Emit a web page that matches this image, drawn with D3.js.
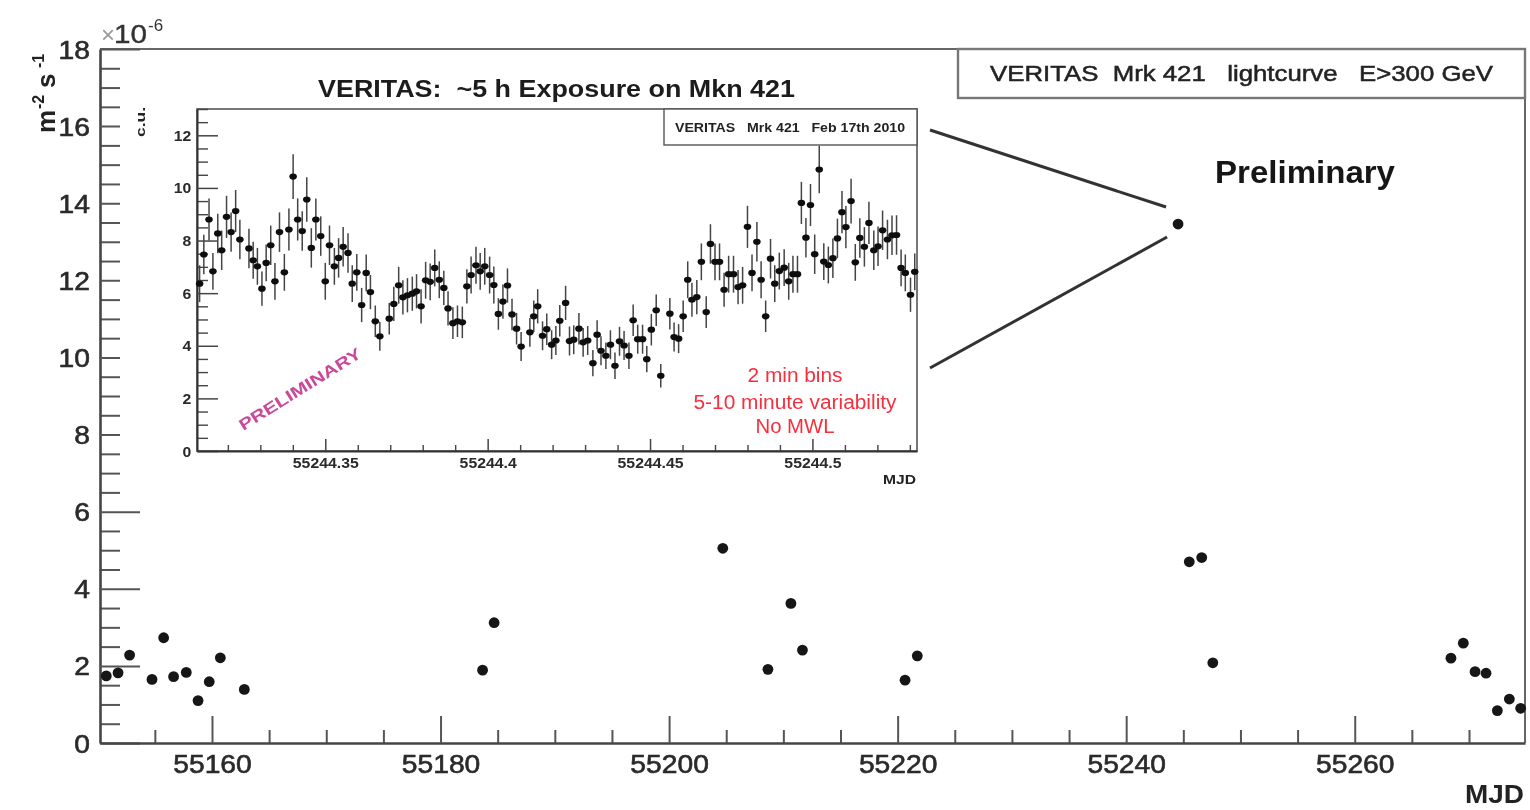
<!DOCTYPE html>
<html>
<head>
<meta charset="utf-8">
<script src="https://cdn.jsdelivr.net/npm/d3@7"></script>
<style>
  html, body { margin: 0; padding: 0; background: #fff; }
  svg { display: block; font-family: "Liberation Sans", Arial, Helvetica, sans-serif; }
  text { white-space: pre; }
</style>
</head>
<body>
<script>
// ---- Long-term light curve (flux in units of 1e-6 m^-2 s^-1) ----
const nightMJD = [55150.75, 55151.78, 55152.79, 55154.75, 55155.77, 55156.64, 55157.75, 55158.78,
  55159.76, 55160.73, 55162.83, 55183.68, 55184.69, 55204.70, 55208.65, 55210.66, 55211.67,
  55220.65, 55221.72, 55244.54, 55245.52, 55246.61, 55247.58, 55268.42, 55269.50, 55270.53,
  55271.49, 55272.48, 55273.53, 55274.52];
const nightFlux = [1.74, 1.82, 2.28, 1.65, 2.73, 1.72, 1.83, 1.10, 1.59, 2.21, 1.39, 1.89, 3.12,
  5.05, 1.91, 3.62, 2.41, 1.63, 2.26, 13.46, 4.70, 4.81, 2.08, 2.20, 2.59, 1.85, 1.81, 0.84,
  1.14, 0.90];
const flareMJD = 55244.54;   // night shown in the 2-minute-bin inset
const flareFlux = 13.46;

const mainXTicks = [55160, 55180, 55200, 55220, 55240, 55260];
const mainYTicks = [0, 2, 4, 6, 8, 10, 12, 14, 16, 18];

// ---- Feb 17th 2010 run, 2 min bins (Crab units) ----
const insetTime = [55244.3113, 55244.3126, 55244.3142, 55244.3154, 55244.3169, 55244.3181,
  55244.3196, 55244.3210, 55244.3224, 55244.3237, 55244.3265, 55244.3278, 55244.3291, 55244.3305,
  55244.3318, 55244.3332, 55244.3345, 55244.3359, 55244.3374, 55244.3388, 55244.3401, 55244.3415,
  55244.3429, 55244.3443, 55244.3457, 55244.3471, 55244.3486, 55244.3500, 55244.3513, 55244.3528,
  55244.3541, 55244.3555, 55244.3570, 55244.3583, 55244.3597, 55244.3612, 55244.3626, 55244.3639,
  55244.3654, 55244.3668, 55244.3697, 55244.3711, 55244.3726, 55244.3739, 55244.3753, 55244.3768,
  55244.3781, 55244.3795, 55244.3809, 55244.3823, 55244.3837, 55244.3851, 55244.3865, 55244.3878,
  55244.3893, 55244.3907, 55244.3922, 55244.3936, 55244.3949, 55244.3964, 55244.3977, 55244.3991,
  55244.4006, 55244.4019, 55244.4033, 55244.4047, 55244.4061, 55244.4075, 55244.4089, 55244.4103,
  55244.4130, 55244.4142, 55244.4154, 55244.4169, 55244.4182, 55244.4197, 55244.4210, 55244.4222,
  55244.4240, 55244.4252, 55244.4265, 55244.4281, 55244.4294, 55244.4308, 55244.4324, 55244.4337,
  55244.4349, 55244.4364, 55244.4378, 55244.4392, 55244.4406, 55244.4420, 55244.4435, 55244.4448,
  55244.4462, 55244.4477, 55244.4490, 55244.4504, 55244.4519, 55244.4533, 55244.4561, 55244.4574,
  55244.4588, 55244.4602, 55244.4616, 55244.4629, 55244.4644, 55244.4658, 55244.4673, 55244.4686,
  55244.4700, 55244.4714, 55244.4728, 55244.4742, 55244.4757, 55244.4771, 55244.4785, 55244.4800,
  55244.4814, 55244.4829, 55244.4842, 55244.4856, 55244.4871, 55244.4884, 55244.4898, 55244.4913,
  55244.4927, 55244.4940, 55244.4954, 55244.4966, 55244.4980, 55244.4994, 55244.5007, 55244.5021,
  55244.5035, 55244.5049, 55244.5063, 55244.5077, 55244.5091, 55244.5103, 55244.5119, 55244.5132,
  55244.5146, 55244.5160, 55244.5174, 55244.5189, 55244.5202, 55244.5216, 55244.5231, 55244.5245,
  55244.5259, 55244.5273, 55244.5286, 55244.5302, 55244.5315];
const insetRate = [6.36, 7.47, 8.80, 6.83, 8.27, 7.63, 8.90, 8.32, 9.12, 8.04, 7.70, 7.25, 7.02,
  6.17, 7.15, 7.82, 6.45, 8.32, 6.79, 8.42, 10.43, 8.80, 8.36, 9.56, 7.72, 8.80, 8.17, 6.45, 7.82,
  7.02, 7.34, 7.76, 7.53, 6.36, 6.79, 5.55, 6.77, 6.04, 4.93, 4.36, 5.03, 5.59, 6.30, 5.84, 5.92,
  5.98, 6.07, 5.50, 6.49, 6.43, 6.96, 6.51, 6.20, 5.42, 4.86, 4.93, 4.89, 6.26, 6.69, 7.06, 6.83,
  7.02, 6.69, 6.31, 5.21, 5.68, 6.29, 5.19, 4.65, 3.97, 4.51, 5.12, 5.50, 4.38, 4.63, 4.04, 4.20,
  4.95, 5.63, 4.18, 4.23, 4.65, 4.13, 4.20, 3.34, 4.42, 3.81, 3.62, 4.04, 3.24, 4.17, 4.01, 3.62,
  4.97, 4.25, 4.25, 3.49, 4.61, 5.35, 2.86, 5.22, 4.33, 4.27, 5.12, 6.51, 5.75, 5.85, 7.19, 5.28,
  7.87, 7.19, 7.19, 6.13, 6.72, 6.72, 6.23, 6.30, 8.52, 6.77, 7.95, 6.51, 5.12, 7.31, 6.36, 6.84,
  6.97, 6.45, 6.72, 6.72, 9.43, 8.11, 9.35, 7.48, 10.70, 7.20, 7.07, 7.33, 8.08, 9.08, 8.51, 9.50,
  7.17, 8.10, 7.76, 8.67, 7.63, 7.78, 8.39, 8.04, 8.20, 8.21, 6.96, 6.77, 5.94, 6.81];
const insetErr = [0.70, 0.75, 0.80, 0.70, 0.75, 0.75, 0.80, 0.75, 0.80, 0.75, 0.75, 0.70, 0.70,
  0.65, 0.70, 0.75, 0.70, 0.75, 0.70, 0.80, 0.85, 0.80, 0.75, 0.85, 0.75, 0.80, 0.75, 0.70, 0.75,
  0.70, 0.75, 0.75, 0.75, 0.70, 0.70, 0.65, 0.70, 0.65, 0.60, 0.55, 0.60, 0.65, 0.70, 0.65, 0.65,
  0.65, 0.65, 0.65, 0.70, 0.70, 0.70, 0.70, 0.65, 0.65, 0.60, 0.60, 0.60, 0.65, 0.70, 0.70, 0.70,
  0.70, 0.70, 0.70, 0.60, 0.65, 0.65, 0.60, 0.60, 0.55, 0.55, 0.60, 0.65, 0.55, 0.60, 0.55, 0.55,
  0.60, 0.65, 0.55, 0.55, 0.60, 0.55, 0.55, 0.50, 0.55, 0.55, 0.50, 0.55, 0.50, 0.55, 0.55, 0.50,
  0.60, 0.55, 0.55, 0.50, 0.60, 0.60, 0.45, 0.60, 0.55, 0.55, 0.60, 0.70, 0.65, 0.65, 0.70, 0.60,
  0.75, 0.70, 0.70, 0.65, 0.70, 0.70, 0.65, 0.70, 0.80, 0.70, 0.75, 0.70, 0.60, 0.75, 0.70, 0.70,
  0.70, 0.70, 0.70, 0.70, 0.80, 0.75, 0.80, 0.75, 0.90, 0.70, 0.70, 0.75, 0.75, 0.80, 0.80, 0.85,
  0.70, 0.75, 0.75, 0.80, 0.75, 0.75, 0.75, 0.75, 0.75, 0.75, 0.70, 0.70, 0.65, 0.70];

const insetXTicks = [55244.35, 55244.40, 55244.45, 55244.50];
const insetYTicks = [0, 2, 4, 6, 8, 10, 12];

const W = 1530, H = 810;
const SX = 1.13;   // the whole figure is drawn slightly wide

const svg = d3.select("body").append("svg").attr("width", W).attr("height", H);
svg.append("rect").attr("width", W).attr("height", H).attr("fill", "#fff");
svg.append("defs").append("filter").attr("id", "soft")
  .append("feGaussianBlur").attr("stdDeviation", 0.45);
const root = svg.append("g").attr("filter", "url(#soft)");

// ---------------- main light curve ----------------
const x = d3.scaleLinear().domain([55150.2, 55274.9]).range([100, 1525]);
const y = d3.scaleLinear().domain([0, 18]).range([743, 49]);

const main = root.append("g");

// frame (top and right)
main.append("path")
  .attr("d", `M${x.range()[0]},${y.range()[1]}H${x.range()[1]}V${y.range()[0]}`)
  .attr("fill", "none").attr("stroke", "#666").attr("stroke-width", 2);

// minor ticks
const yMinor = d3.range(0.5, 18, 0.5).filter(v => v % 2 !== 0);
main.append("g").attr("transform", `translate(${x.range()[0]},0)`)
  .call(d3.axisLeft(y).tickValues(yMinor).tickSizeInner(-20).tickSizeOuter(0).tickFormat(""))
  .call(g => g.select(".domain").remove())
  .call(g => g.selectAll("line").attr("stroke", "#555").attr("stroke-width", 2));
const xMinor = d3.range(55155, 55275, 5).filter(v => v % 20 !== 0);
main.append("g").attr("transform", `translate(0,${y.range()[0]})`)
  .call(d3.axisBottom(x).tickValues(xMinor).tickSizeInner(-13).tickSizeOuter(0).tickFormat(""))
  .call(g => g.select(".domain").remove())
  .call(g => g.selectAll("line").attr("stroke", "#555").attr("stroke-width", 2));

// major ticks + labels
const yAxis = main.append("g").attr("transform", `translate(${x.range()[0]},0)`)
  .call(d3.axisLeft(y).tickValues(mainYTicks).tickSizeInner(-40).tickSizeOuter(0).tickPadding(9)
    .tickFormat(d3.format("d")));
const xAxis = main.append("g").attr("transform", `translate(0,${y.range()[0]})`)
  .call(d3.axisBottom(x).tickValues(mainXTicks).tickSizeInner(-27).tickSizeOuter(0).tickPadding(12)
    .tickFormat(d3.format("d")));
[yAxis, xAxis].forEach(a => {
  a.select(".domain").attr("stroke", "#444").attr("stroke-width", 2.6);
  a.selectAll(".tick line").attr("stroke", "#555").attr("stroke-width", 2);
  a.selectAll(".tick text").attr("font-size", 25).attr("fill", "#2a2a2a")
    .attr("font-family", "Liberation Sans, Arial, sans-serif")
    .attr("stroke", "#2a2a2a").attr("stroke-width", 0.6)
    .attr("transform", `scale(${SX},1)`);
});
yAxis.selectAll(".tick text").attr("dy", "0.36em");

// exponent
main.append("text").attr("x", 101).attr("y", 43).attr("font-size", 24).attr("fill", "#9a9a9a").text("×");
main.append("text").attr("x", 114).attr("y", 43).attr("font-size", 25).attr("fill", "#333")
  .attr("stroke", "#333").attr("stroke-width", 0.4)
  .attr("textLength", 33).attr("lengthAdjust", "spacingAndGlyphs").text("10");
main.append("text").attr("x", 148).attr("y", 31).attr("font-size", 17).attr("fill", "#333").text("-6");

// y title
const yt = main.append("g").attr("transform", "translate(55,133) rotate(-90)")
  .attr("font-weight", "bold").attr("fill", "#222");
yt.append("text").attr("x", 0).attr("y", 0).attr("font-size", 26).text("m");
yt.append("text").attr("x", 24).attr("y", -11).attr("font-size", 16).text("-2");
yt.append("text").attr("x", 45).attr("y", 0).attr("font-size", 26).text("s");
yt.append("text").attr("x", 65).attr("y", -11).attr("font-size", 16).text("-1");

// x title
main.append("text").attr("x", 1524).attr("y", 803).attr("text-anchor", "end")
  .attr("font-size", 25).attr("font-weight", "bold").attr("fill", "#222")
  .attr("textLength", 59).attr("lengthAdjust", "spacingAndGlyphs").text("MJD");

// nightly points
main.append("g").selectAll("circle")
  .data(nightMJD.map((t, i) => ({ t, f: nightFlux[i] })))
  .join("circle")
  .attr("cx", d => x(d.t)).attr("cy", d => y(d.f)).attr("r", 5.4)
  .attr("fill", "#161616");

// legend box
main.append("rect").attr("x", 958).attr("y", y.range()[1]).attr("width", x.range()[1] - 958).attr("height", 49)
  .attr("fill", "#fff").attr("stroke", "#777").attr("stroke-width", 2.4);
main.append("text").attr("x", 1241.5).attr("y", 81).attr("text-anchor", "middle")
  .attr("font-size", 22).attr("fill", "#222").attr("stroke", "#222").attr("stroke-width", 0.5)
  .attr("textLength", 503).attr("lengthAdjust", "spacingAndGlyphs")
  .text("VERITAS  Mrk 421   lightcurve   E>300 GeV");

main.append("text").attr("x", 1215).attr("y", 183)
  .attr("font-size", 31).attr("font-weight", "bold").attr("fill", "#151515")
  .attr("textLength", 180).attr("lengthAdjust", "spacingAndGlyphs").text("Preliminary");

// ---------------- inset: single night, 2 min bins ----------------
const ix = d3.scaleLinear().domain([55244.3105, 55244.5322]).range([197, 917]);
const iy = d3.scaleLinear().domain([0, 13]).range([451, 109]);
const [il, ir] = ix.range(), [ib, itp] = iy.range();

const inset = root.append("g");
inset.append("rect").attr("x", 120).attr("y", 66).attr("width", 810).attr("height", 424).attr("fill", "#fff");

// pointer lines from the inset to the flare night
const fx = x(flareMJD), fy = y(flareFlux);
inset.append("line").attr("x1", ir + 13).attr("y1", itp + 21).attr("x2", fx - 12).attr("y2", fy - 17)
  .attr("stroke", "#333").attr("stroke-width", 3);
inset.append("line").attr("x1", ir + 13).attr("y1", ib - 83).attr("x2", fx - 11).attr("y2", fy + 13)
  .attr("stroke", "#333").attr("stroke-width", 3);

inset.append("rect").attr("x", il).attr("y", itp).attr("width", ir - il).attr("height", ib - itp)
  .attr("fill", "none").attr("stroke", "#555").attr("stroke-width", 1.6);

const iyMinor = d3.range(0.5, 13.01, 0.5).filter(v => v % 2 !== 0);
inset.append("g").attr("transform", `translate(${il},0)`)
  .call(d3.axisLeft(iy).tickValues(iyMinor).tickSizeInner(-11).tickSizeOuter(0).tickFormat(""))
  .call(g => g.select(".domain").remove())
  .call(g => g.selectAll("line").attr("stroke", "#444").attr("stroke-width", 1.4));
const ixMinor = d3.range(32, 54).map(k => 55244 + k / 100).filter(v => Math.round(v * 100) % 5 !== 0);
inset.append("g").attr("transform", `translate(0,${ib})`)
  .call(d3.axisBottom(ix).tickValues(ixMinor).tickSizeInner(-6).tickSizeOuter(0).tickFormat(""))
  .call(g => g.select(".domain").remove())
  .call(g => g.selectAll("line").attr("stroke", "#444").attr("stroke-width", 1.4));

const iyAxis = inset.append("g").attr("transform", `translate(${il},0)`)
  .call(d3.axisLeft(iy).tickValues(insetYTicks).tickSizeInner(-21).tickSizeOuter(0).tickPadding(5)
    .tickFormat(d3.format("d")));
const ixAxis = inset.append("g").attr("transform", `translate(0,${ib})`)
  .call(d3.axisBottom(ix).tickValues(insetXTicks).tickSizeInner(-12).tickSizeOuter(0).tickPadding(7)
    .tickFormat(d => String(+d.toFixed(2))));
[iyAxis, ixAxis].forEach(a => {
  a.select(".domain").attr("stroke", "#333").attr("stroke-width", 2);
  a.selectAll(".tick line").attr("stroke", "#444").attr("stroke-width", 1.5);
  a.selectAll(".tick text").attr("font-size", 14).attr("font-weight", "bold").attr("fill", "#2a2a2a")
    .attr("font-family", "Liberation Sans, Arial, sans-serif")
    .attr("transform", `scale(${SX},1)`);
});
iyAxis.selectAll(".tick text").attr("dy", "0.36em");

inset.append("text").attr("transform", "translate(145,122) rotate(-90)").attr("text-anchor", "middle")
  .attr("font-size", 13).attr("font-weight", "bold").attr("fill", "#222")
  .attr("textLength", 30).attr("lengthAdjust", "spacingAndGlyphs").text("c.u.");
inset.append("text").attr("x", ir - 1).attr("y", 484).attr("text-anchor", "end")
  .attr("font-size", 12).attr("font-weight", "bold").attr("fill", "#222")
  .attr("textLength", 33).attr("lengthAdjust", "spacingAndGlyphs").text("MJD");

inset.append("text").attr("x", 556.5).attr("y", 97).attr("text-anchor", "middle")
  .attr("font-size", 23).attr("font-weight", "bold").attr("fill", "#1a1a1a")
  .attr("textLength", 477).attr("lengthAdjust", "spacingAndGlyphs")
  .text("VERITAS:  ~5 h Exposure on Mkn 421");

// inset legend
inset.append("rect").attr("x", 664).attr("y", itp).attr("width", ir - 664).attr("height", 36)
  .attr("fill", "#fff").attr("stroke", "#555").attr("stroke-width", 1.4);
inset.append("text").attr("x", 790).attr("y", 132).attr("text-anchor", "middle")
  .attr("font-size", 13).attr("font-weight", "bold").attr("fill", "#222")
  .attr("textLength", 230).attr("lengthAdjust", "spacingAndGlyphs")
  .text("VERITAS   Mrk 421   Feb 17th 2010");

// error bars and points
const pts = insetTime.map((t, i) => ({ t, v: insetRate[i], e: insetErr[i] }));
inset.append("g").selectAll("line").data(pts).join("line")
  .attr("x1", d => ix(d.t)).attr("x2", d => ix(d.t))
  .attr("y1", d => iy(d.v - d.e)).attr("y2", d => iy(d.v + d.e))
  .attr("stroke", "#444").attr("stroke-width", 1.5);
inset.append("g").selectAll("ellipse").data(pts).join("ellipse")
  .attr("cx", d => ix(d.t)).attr("cy", d => iy(d.v)).attr("rx", 3.8).attr("ry", 3.1)
  .attr("fill", "#111");

// annotations
const notes = [["2 min bins", 382, 95], ["5-10 minute variability", 409, 203], ["No MWL", 433, 79]];
inset.append("g").selectAll("text").data(notes).join("text")
  .attr("x", 795).attr("y", d => d[1]).attr("text-anchor", "middle")
  .attr("font-size", 19.5).attr("fill", "#f72f3c")
  .attr("textLength", d => d[2]).attr("lengthAdjust", "spacingAndGlyphs")
  .text(d => d[0]);

inset.append("text").attr("transform", "translate(300,389) rotate(-32)").attr("text-anchor", "middle")
  .attr("dy", "0.35em").attr("font-size", 16).attr("font-weight", "bold").attr("fill", "#c8489a")
  .attr("textLength", 141).attr("lengthAdjust", "spacingAndGlyphs").text("PRELIMINARY");
</script>
</body>
</html>
